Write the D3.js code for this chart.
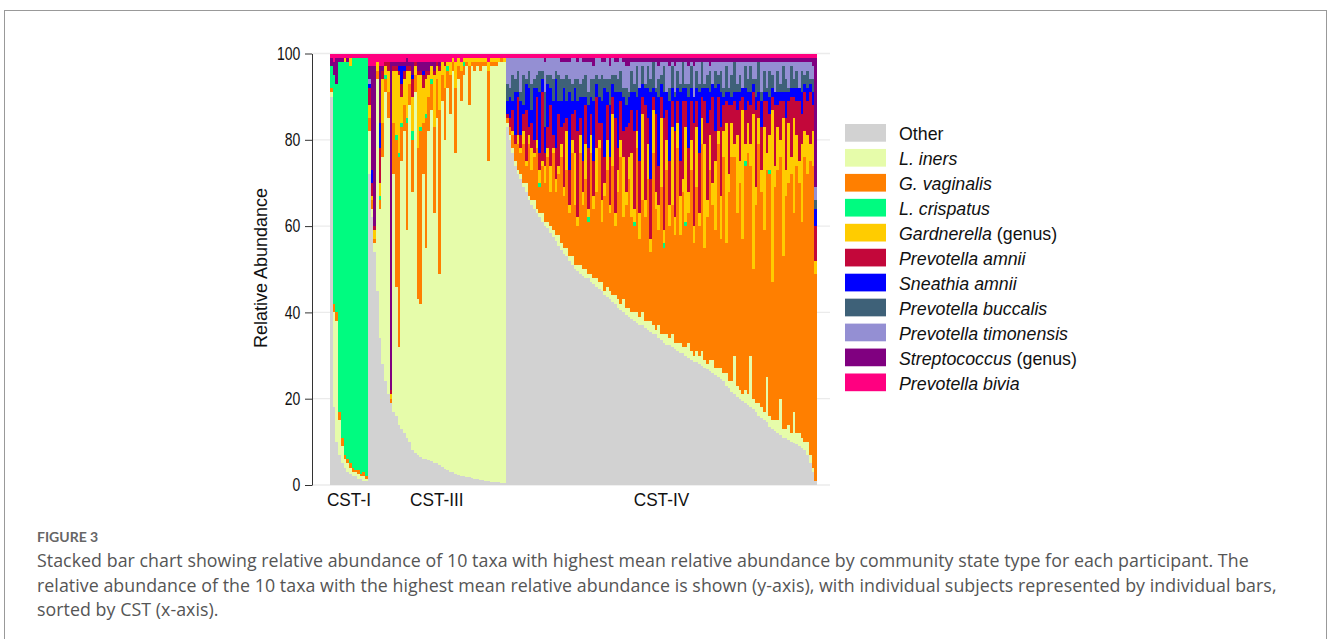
<!DOCTYPE html>
<html>
<head>
<meta charset="utf-8">
<script src="https://cdn.jsdelivr.net/npm/d3@7"></script>
<style>
  body { margin: 0; background: #fff; }
  svg { display: block; }
</style>
</head>
<body>
<svg id="svg_fig"></svg>
<script>
// taxa, bottom of the stack first (same order as the legend)
var taxa = ["Other", "L. iners", "G. vaginalis", "L. crispatus", "Gardnerella", "Prevotella amnii",
  "Sneathia amnii", "Prevotella buccalis", "Prevotella timonensis", "Streptococcus", "Prevotella bivia"]
var genusOnly = [false, false, false, false, true, false, false, false, false, true, false]
var taxaKeys = ["other", "iners", "gvag", "crisp", "gard", "pamnii", "samnii", "pbucc", "ptimon", "strep", "pbiv"]
var colors = ["#d2d2d2", "#e6fcaa", "#ff7f00", "#00fb80", "#ffcc00", "#c3073a",
  "#0000ff", "#3e6178", "#948fd3", "#800080", "#ff0080"]

// community state types and number of participants in each
var groups = ["CST-I", "CST-III", "CST-IV"]
var groupSizes = [14, 51, 115]
var yTicks = [0, 20, 40, 60, 80, 100]

// relative abundance (%) per participant, CST-I | CST-III | CST-IV
var other = [
  90, 18, 10, 7, 5, 4, 3, 2.5, 2, 2, 1.5, 1.5, 1, 1,
  72, 62, 54, 45, 34, 28, 24, 21, 19, 17, 16, 14, 13, 12, 11, 10, 8, 7.5, 7, 6.5, 6, 6, 5.7, 5.5, 5.2, 5, 4.6, 4.2, 3.7, 3.4, 3.1, 2.9, 2.6, 2.4, 2.2, 2, 1.9, 1.8, 1.6, 1.5, 1.3, 1.2, 1.1, 1, 0.9, 0.8, 0.7, 0.6, 0.6, 0.5, 0.5,
  83, 80, 77, 74, 72, 71, 69, 68, 66, 65, 64, 63, 62, 61, 60, 59.5, 58.5, 57.5, 56.5, 55.5,
  54.5, 53.5, 53, 52, 51, 50, 49.5, 49, 48.5, 48, 48, 47, 46.5, 46, 45.5, 45, 44, 43.5, 43, 42.5, 42, 41, 40.5, 40, 39.5,
  39, 38.5, 38, 37.5, 37, 37, 36.5, 36, 35.5, 35, 35, 34, 33.5, 33, 32.5, 32.5, 32, 31.5, 31, 30.5, 30.5, 30, 29.5, 29, 28.5, 28.5, 28, 27.5, 27, 26.8, 26.5, 26, 25.5, 25, 24.5,
  24, 23, 22.5, 21.5, 21, 20.5, 20, 19.5, 19, 18.5, 18, 17.5, 17, 16, 15.5, 15, 14.5, 13.5, 13, 12.5, 12, 11.5, 11, 10.8, 10.5, 10, 9.8, 9.5, 9, 8.5, 8, 7, 5, 3, 1
]
var iners = [
  1, 22, 28, 8, 4, 2, 2, 1.5, 1, 1, 1, 0.5, 1, 0.5,
  10, 2, 2, 49, 30, 48, 67, 64, 0, 55, 30, 18, 62, 70, 48, 78, 60, 83.5, 36, 35.5, 66, 49, 76.3, 81.5, 57.8, 80, 44.4, 84.8, 76.3, 88.6, 82.9, 93.1, 74.4, 91.6, 86.8, 93, 95.1, 86.2, 95.4, 94.5, 95.7, 94.8, 95.9, 96, 74.1, 96.2, 96.3, 96.4, 97.4, 97.5, 97.5,
  1, 1, 1, 1, 1, 1, 1, 2, 1, 1, 2, 1, 1, 2, 1, 1.5, 1.5, 1.5, 1.5, 2.5,
  1.5, 1.5, 2, 1, 2, 1, 1.5, 2, 1.5, 2, 1, 2, 1.5, 2, 1.5, 2, 1, 2.5, 2, 1.5, 2, 2, 1.5, 3, 1.5,
  2, 1.5, 2, 2.5, 2, 3, 1.5, 2, 2.5, 2, 1, 3, 1.5, 2, 2.5, 1.5, 3, 1.5, 2, 2.5, 1.5, 2, 3.5, 2, 1.5, 2.5, 2, 3.5, 2, 1.2, 2.5, 3, 1.5, 2, 2.5,
  2, 3, 1.5, 2.5, 9, 2.5, 2, 1.5, 3, 2.5, 12, 2.5, 2, 3, 2.5, 2, 10.5, 2.5, 2, 2.5, 3, 8.5, 2, 2.2, 3.5, 2, 7.2, 2.5, 3, 2.5, 2, 3, 2, 1, 0
]
var gvag = [
  1, 2, 2, 2, 2, 1, 1, 1, 1, 0.5, 1, 0.5, 1, 0.5,
  3, 2, 1, 2, 2, 8, 3, 6, 1, 12, 34, 44, 8, 6, 25, 5, 12, 4, 35, 40, 12, 30, 8, 6, 20, 9, 38, 6, 12, 4, 9, 2, 15, 3, 7, 2, 1, 9, 1, 2, 1, 2, 1, 1, 21, 1, 1, 1, 0, 1, 0,
  1, 2, 3, 4, 6, 5, 9, 4, 12, 7, 10, 14, 6, 11, 9, 15, 8, 18, 10, 14,
  20, 12, 18, 10, 24, 14, 9, 26, 15, 21, 12, 28, 16, 20, 31, 14, 22, 27, 18, 30, 16, 25, 34, 19, 24,
  30, 22, 20, 38, 18, 26, 24, 33, 16, 40, 28, 22, 34, 20, 38, 26, 30, 25, 45, 25, 36, 28, 30, 42, 26, 38, 30, 48, 26, 34, 44, 36, 32, 52, 30,
  50, 30, 44, 52, 46, 40, 48, 36, 52, 56, 44, 30, 46, 60, 50, 42, 48, 56, 32, 54, 58, 56, 40, 54, 56, 60, 46, 62, 58, 50, 66, 62, 68, 70, 48
]
var crisp = [
  5, 53, 53, 81, 87, 91, 92, 92, 95, 95.5, 95.5, 96.5, 96, 97,
  0, 0, 0, 0, 1, 0, 1, 0, 0, 0, 1, 1, 1, 0, 1, 0, 2, 0, 0, 1, 0, 1, 0, 1, 0, 0, 0, 0, 0, 1, 0, 0, 0, 0, 0, 1, 0, 0, 0, 0, 0, 0, 0, 0, 0, 0, 0, 0, 0, 0, 0,
  0, 0, 0, 0, 0, 0, 0, 0, 0, 0, 0, 0, 1, 0, 0, 0, 0, 0, 0, 0,
  0, 0, 0, 0, 0, 0, 0, 0, 0, 0, 1, 0, 0, 0, 0, 0, 0, 0, 0, 0, 0, 0, 0, 0, 0,
  0, 0, 1, 0, 0, 0, 0, 0, 0, 0, 0, 0, 0, 1, 0, 0, 0, 0, 0, 0, 0, 1, 0, 0, 0, 0, 0, 0, 0, 0, 0, 0, 0, 0, 0,
  0, 0, 0, 0, 0, 0, 0, 0, 1, 0, 0, 0, 0, 0, 0, 0, 0, 1, 0, 0, 0, 0, 0, 0, 0, 0, 0, 0, 0, 0, 0, 0, 0, 0, 0
]
var gard = [
  0, 0, 0, 0, 0, 1, 0, 2, 0, 0, 0, 0, 0, 0,
  3, 1, 2, 2, 3, 10, 2, 5, 1, 12, 15, 18, 6, 6, 11, 3, 8, 2, 17, 12, 8, 8, 5, 3, 12, 3, 9, 3, 5, 1, 3, 1, 6, 2, 2, 1, 1, 2, 1, 1, 1, 1, 1, 1, 2, 1, 1, 1, 1, 0, 1,
  0, 0, 1, 0, 2, 1, 3, 1, 2, 5, 1, 2, 3, 1, 4, 2, 6, 1, 3, 2,
  3, 2, 9, 2, 3, 12, 2, 4, 3, 8, 2, 4, 3, 10, 2, 5, 3, 7, 2, 12, 3, 5, 4, 14, 3,
  5, 15, 3, 4, 6, 20, 4, 8, 3, 10, 4, 6, 16, 3, 7, 5, 18, 4, 6, 9, 3, 22, 5, 7, 4, 14, 3, 6, 24, 4, 8, 5, 16, 3, 10,
  6, 28, 4, 8, 3, 18, 5, 30, 4, 7, 5, 36, 4, 6, 5, 24, 4, 8, 40, 5, 10, 4, 32, 6, 14, 4, 22, 7, 5, 18, 6, 9, 4, 8, 3
]
var pamnii = [
  0, 0, 0, 0, 0, 0, 0, 0, 0, 0, 0, 0, 0, 0,
  4, 3, 1, 0, 8, 2, 1, 2, 1, 1, 1, 1, 3, 2, 1, 1, 4, 1, 1, 1, 3, 2, 1, 0, 1, 1, 1, 0, 1, 0, 0, 0, 0, 0, 0, 0, 0, 0, 0, 0, 0, 0, 0, 0, 0, 0, 0, 0, 0, 0, 0,
  1, 2, 5, 2, 9, 3, 4, 12, 2, 6, 3, 10, 4, 16, 3, 5, 14, 3, 7, 12,
  4, 15, 3, 8, 6, 10, 20, 4, 7, 9, 14, 5, 8, 12, 4, 18, 6, 8, 11, 4, 22, 5, 9, 6, 15,
  8, 10, 18, 5, 12, 4, 22, 6, 14, 3, 18, 9, 5, 26, 7, 10, 6, 20, 5, 8, 18, 6, 10, 9, 24, 6, 14, 5, 10, 18, 6, 20, 7, 8, 16,
  6, 5, 16, 4, 10, 6, 14, 3, 8, 5, 9, 5, 18, 4, 10, 6, 12, 5, 3, 14, 5, 9, 4, 12, 5, 14, 5, 8, 14, 7, 9, 8, 12, 6, 8
]
var samnii = [
  0, 0, 0, 0, 0, 0, 0, 0, 0, 0, 0, 0, 0, 0,
  1, 3, 0, 0, 6, 0, 0, 0, 0, 0, 0, 1, 4, 1, 0, 0, 1, 0, 0, 0, 1, 0, 0, 0, 0, 0, 0, 0, 0, 0, 0, 0, 0, 0, 0, 0, 0, 0, 0, 0, 0, 0, 0, 0, 0, 0, 0, 0, 0, 0, 0,
  3, 5, 2, 10, 1, 8, 2, 6, 9, 3, 12, 2, 14, 3, 6, 10, 4, 8, 16, 3,
  6, 8, 4, 18, 3, 5, 7, 5, 15, 2, 10, 4, 14, 3, 6, 5, 16, 3, 12, 3, 6, 13, 2, 8, 5,
  6, 4, 9, 3, 17, 3, 4, 7, 20, 2, 5, 16, 3, 6, 4, 14, 3, 8, 3, 16, 3, 3, 12, 3, 6, 3, 14, 2, 3, 8, 4, 3, 10, 3, 8,
  2, 2, 3, 2, 2, 4, 2, 2, 5, 2, 3, 2, 3, 2, 6, 2, 2, 4, 2, 3, 3, 2, 2, 6, 2, 2, 2, 3, 3, 5, 2, 3, 2, 3, 4
]
var pbucc = [
  0, 0, 0, 0, 0, 0, 0, 0, 0, 0, 0, 0, 0, 0,
  0, 0, 0, 0, 0, 0, 0, 0, 0, 0, 0, 0, 0, 0, 0, 0, 0, 0, 0, 0, 0, 0, 0, 0, 0, 0, 0, 0, 0, 0, 0, 0, 0, 0, 0, 0, 0, 0, 0, 0, 0, 0, 0, 0, 0, 0, 0, 0, 0, 0, 0,
  4, 2, 6, 3, 5, 2, 7, 1, 4, 6, 2, 3, 5, 2, 8, 2, 3, 5, 2, 6,
  5, 2, 6, 3, 4, 2, 5, 3, 4, 5, 3, 4, 5, 2, 4, 6, 2, 3, 6, 2, 4, 3, 5, 2, 4,
  1, 5, 2, 7, 0, 4, 1, 5, 3, 6, 1, 4, 2, 6, 0, 3, 5, 1, 4, 2, 6, 1, 3, 5, 0, 4, 2, 6, 1, 3, 5, 0, 4, 2, 5,
  2, 6, 1, 5, 7, 2, 4, 0, 5, 3, 6, 1, 4, 7, 2, 5, 1, 6, 3, 0, 5, 2, 6, 3, 1, 5, 2, 4, 0, 5, 2, 4, 1, 3, 2
]
var ptimon = [
  0, 0, 0, 0, 0, 0, 0, 0, 0, 0, 0, 0, 0, 0,
  1, 0, 0, 0, 0, 0, 0, 0, 0, 0, 0, 0, 0, 0, 0, 0, 0, 0, 0, 0, 0, 0, 0, 0, 0, 0, 0, 0, 0, 0, 0, 0, 0, 0, 0, 0, 0, 0, 0, 0, 0, 0, 0, 0, 0, 0, 0, 0, 0, 0, 0,
  6, 7, 4, 5, 3, 8, 4, 5, 3, 6, 5, 4, 3, 3, 7, 4, 4, 5, 3, 4,
  4, 4, 3, 4, 6, 5, 4, 6, 4, 3, 7, 4, 3, 4, 5, 3, 4, 5, 3, 4, 3, 4, 3, 6, 5,
  6, 2, 5, 1, 6, 1, 5, 1, 4, 0, 6, 3, 3, 1, 7, 5, 1, 6, 2, 5, 0, 5, 4, 1, 7, 2, 5, 0, 5, 3, 1, 5, 2, 3, 2,
  6, 1, 6, 3, 0, 5, 3, 6, 1, 4, 1, 4, 4, 0, 7, 2, 6, 2, 3, 7, 2, 5, 1, 4, 6, 1, 4, 2, 6, 2, 3, 2, 4, 3, 3
]
var strep = [
  2, 3, 6, 1, 1, 0, 1, 0, 0, 0, 0, 0, 0, 0,
  3, 24, 37, 0, 13, 1, 0, 0, 76, 1, 1, 1, 1, 1, 2, 1, 3, 0, 2, 2, 2, 2, 2, 1, 2, 0, 1, 0, 0, 0, 0, 0, 0, 0, 0, 0, 0, 0, 0, 0, 0, 0, 0, 0, 0, 0, 0, 0, 0, 0, 0,
  0, 0, 0, 0, 0, 0, 0, 0, 0, 0, 0, 0, 0, 0, 1, 0, 0, 0, 0, 0,
  1, 1, 1, 1, 0, 0, 1, 0, 1, 1, 1, 1, 2, 0, 0, 1, 1, 0, 2, 0, 1, 1, 0, 1, 2,
  2, 1, 1, 1, 1, 1, 1, 1, 1, 1, 1, 2, 1, 1, 1, 2, 1, 2, 1, 1, 1, 1, 2, 1, 2, 1, 1, 1, 1, 1, 2, 1, 1, 1, 1,
  1, 1, 1, 1, 1, 1, 1, 1, 1, 1, 1, 1, 1, 1, 1, 1, 1, 1, 1, 1, 1, 1, 1, 1, 1, 1, 1, 1, 1, 1, 1, 1, 1, 2, 30
]
var pbiv = [
  1, 2, 1, 1, 1, 1, 1, 1, 1, 1, 1, 1, 1, 1,
  3, 3, 3, 2, 3, 3, 2, 2, 2, 2, 2, 2, 2, 2, 1, 2, 2, 2, 2, 2, 2, 2, 2, 2, 2, 2, 2, 2, 2, 2, 2, 1, 2, 1, 2, 1, 1, 1, 1, 1, 1, 1, 1, 1, 2, 1, 1, 1, 1, 1, 1,
  1, 1, 1, 1, 1, 1, 1, 1, 1, 1, 1, 1, 1, 1, 1, 1, 1, 1, 1, 1,
  1, 1, 1, 1, 1, 1, 1, 1, 1, 1, 1, 1, 1, 1, 1, 1, 1, 1, 1, 1, 1, 1, 1, 1, 1,
  1, 1, 1, 1, 1, 1, 1, 1, 1, 1, 1, 1, 1, 1, 1, 1, 1, 1, 1, 1, 1, 1, 1, 1, 1, 1, 1, 1, 1, 1, 1, 1, 1, 1, 1,
  1, 1, 1, 1, 1, 1, 1, 1, 1, 1, 1, 1, 1, 1, 1, 1, 1, 1, 1, 1, 1, 1, 1, 1, 1, 1, 1, 1, 1, 1, 1, 1, 1, 1, 1
]

var captionHead = "FIGURE 3"
var captionLines = [
  "Stacked bar chart showing relative abundance of 10 taxa with highest mean relative abundance by community state type for each participant. The",
  "relative abundance of the 10 taxa with the highest mean relative abundance is shown (y-axis), with individual subjects represented by individual bars,",
  "sorted by CST (x-axis)."
]

var width = 1328,
  height = 639

var series = {
  other: other, iners: iners, gvag: gvag, crisp: crisp, gard: gard, pamnii: pamnii,
  samnii: samnii, pbucc: pbucc, ptimon: ptimon, strep: strep, pbiv: pbiv
}

// one row per participant, rescaled so every bar sums to 100
var n = d3.sum(groupSizes)
var rows = d3.range(n).map(function (i) {
  var row = { id: i }
  var total = d3.sum(taxaKeys, function (k) { return series[k][i] })
  taxaKeys.forEach(function (k) {
    row[k] = series[k][i] / total * 100
  })
  return row
})

var svg = d3.select("#svg_fig")
  .attr("width", width)
  .attr("height", height)

/*
 * Figure frame
 */

svg.append("rect")
  .attr("x", 4.5)
  .attr("y", 10.5)
  .attr("width", 1322)
  .attr("height", 700)
  .style("fill", "none")
  .style("stroke", "#999")

/*
 * Scales
 */

var x = d3.scaleBand()
  .domain(rows.map(function (d) { return d.id }))
  .range([330, 817])
  .padding(0)

var y = d3.scaleLinear()
  .domain([0, 100])
  .range([485, 53.5])

// grid lines
svg.append("g")
  .selectAll("line")
  .data(yTicks)
  .enter()
  .append("line")
  .attr("x1", 312)
  .attr("x2", 830)
  .attr("y1", function (d) { return y(d) })
  .attr("y2", function (d) { return y(d) })
  .style("stroke", "#ebebeb")
  .style("stroke-width", 1.3)

/*
 * Stacked bars
 */

var layers = d3.stack().keys(taxaKeys)(rows)

svg.append("g")
  .attr("shape-rendering", "crispEdges")
  .selectAll("g.layer")
  .data(layers)
  .enter()
  .append("g")
  .attr("class", "layer")
  .style("fill", function (d, i) { return colors[i] })
  .selectAll("rect")
  .data(function (d) { return d })
  .enter()
  .append("rect")
  .attr("x", function (d) { return x(d.data.id) })
  .attr("width", x.bandwidth())
  .attr("y", function (d) { return y(d[1]) })
  .attr("height", function (d) { return Math.max(0, y(d[0]) - y(d[1])) })

/*
 * Axes
 */

var yAxis = svg.append("g")
  .attr("transform", "translate(312,0)")
  .attr("color", "#333")
  .call(d3.axisLeft(y).tickValues(yTicks).tickSize(7).tickSizeOuter(0))

yAxis.selectAll(".tick text")
  .attr("x", -14.5)
  .attr("transform", "scale(0.8,1)")
  .style("font-family", "'Liberation Sans', Arial, sans-serif")
  .style("font-size", "17.5px")
  .style("fill", "#111")

svg.append("text")
  .attr("transform", "translate(267,268) rotate(-90)")
  .attr("text-anchor", "middle")
  .style("font-family", "'Liberation Sans', Arial, sans-serif")
  .style("font-size", "18px")
  .style("fill", "#111")
  .text("Relative Abundance")

// CST labels centred under each group of bars
var starts = d3.cumsum([0].concat(groupSizes))
svg.append("g")
  .selectAll("text")
  .data(groups)
  .enter()
  .append("text")
  .attr("transform", function (d, i) {
    var x0 = x(starts[i]),
      x1 = x(starts[i + 1] - 1) + x.bandwidth()
    return "translate(" + ((x0 + x1) / 2) + ",506) scale(0.93,1)"
  })
  .attr("text-anchor", "middle")
  .style("font-family", "'Liberation Sans', Arial, sans-serif")
  .style("font-size", "18.5px")
  .style("fill", "#111")
  .text(function (d) { return d })

/*
 * Legend
 */

var legend = svg.append("g")
  .selectAll("g.item")
  .data(taxa)
  .enter()
  .append("g")
  .attr("class", "item")
  .attr("transform", function (d, i) { return "translate(845," + (124 + i * 24.95) + ")" })

legend.append("rect")
  .attr("width", 41)
  .attr("height", 17.7)
  .style("fill", function (d, i) { return colors[i] })

var legendText = legend.append("text")
  .attr("x", 54)
  .attr("y", 16)
  .style("font-family", "'Liberation Sans', Arial, sans-serif")
  .style("font-size", "17.8px")
  .style("fill", "#111")

legendText.append("tspan")
  .style("font-style", function (d, i) { return i === 0 ? "normal" : "italic" })
  .text(function (d) { return d })

legendText.filter(function (d, i) { return genusOnly[i] })
  .append("tspan")
  .text(" (genus)")

/*
 * Caption
 */

svg.append("text")
  .attr("x", 37)
  .attr("y", 542)
  .style("font-family", "Lato, 'Open Sans', sans-serif")
  .style("font-size", "14px")
  .style("font-weight", 700)
  .style("fill", "#666")
  .text(captionHead)

svg.append("g")
  .selectAll("text")
  .data(captionLines)
  .enter()
  .append("text")
  .attr("x", 37)
  .attr("y", function (d, i) { return 567 + i * 24.7 })
  .style("font-family", "'Open Sans', Lato, sans-serif")
  .style("font-size", "17.8px")
  .style("letter-spacing", "0.05px")
  .style("fill", "#555")
  .text(function (d) { return d })
</script>
</body>
</html>
